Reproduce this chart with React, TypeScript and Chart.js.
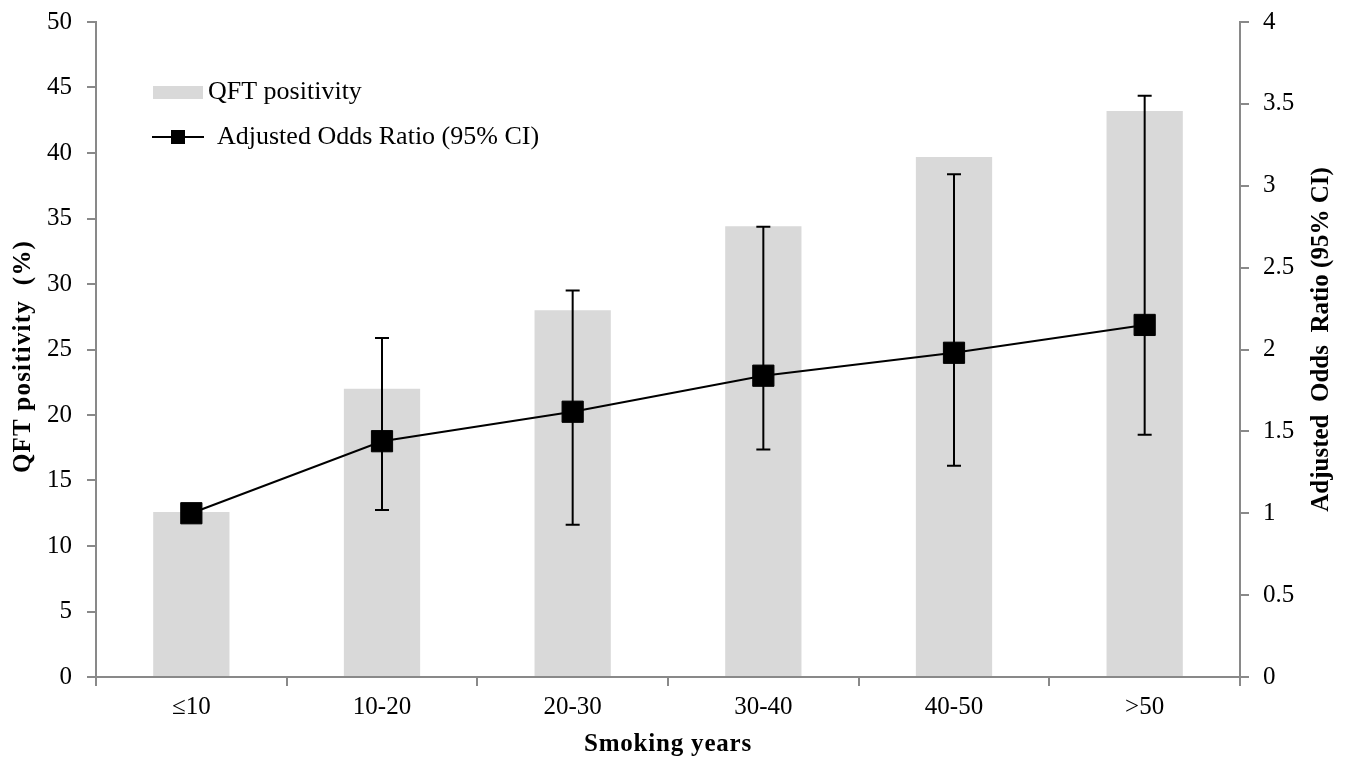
import React, { useEffect, useRef } from "react";
import { Chart, registerables } from "chart.js";

Chart.register(...registerables);

const categories = ["≤10", "10-20", "20-30", "30-40", "40-50", ">50"];
const qftPositivity = [12.6, 22.0, 28.0, 34.4, 39.7, 43.2];
const adjustedOR = [1.0, 1.44, 1.62, 1.84, 1.98, 2.15];
const ciLower: (number | null)[] = [null, 1.02, 0.93, 1.39, 1.29, 1.48];
const ciUpper: (number | null)[] = [null, 2.07, 2.36, 2.75, 3.07, 3.55];
const leftTitle = "QFT positivity  (%)";
const rightTitle = "Adjusted  Odds  Ratio (95% CI)";
const xTitle = "Smoking years";

const FONT = "'Liberation Serif', 'Times New Roman', serif";
const AXIS = "#898989";
const BAR = "#d9d9d9";

const errorBarPlugin = {
  id: "errorBars",
  afterDatasetsDraw(chart: any) {
    const { ctx, scales } = chart;
    const x = scales.x;
    const y1 = scales.y1;
    ctx.save();
    ctx.strokeStyle = "#000";
    ctx.lineWidth = 2;
    categories.forEach((_, i) => {
      const lo = ciLower[i];
      const hi = ciUpper[i];
      if (lo == null || hi == null) return;
      const px = x.getPixelForValue(i);
      const pLo = y1.getPixelForValue(lo);
      const pHi = y1.getPixelForValue(hi);
      ctx.beginPath();
      ctx.moveTo(px, pLo);
      ctx.lineTo(px, pHi);
      ctx.moveTo(px - 7, pLo);
      ctx.lineTo(px + 7, pLo);
      ctx.moveTo(px - 7, pHi);
      ctx.lineTo(px + 7, pHi);
      ctx.stroke();
    });
    ctx.restore();
  },
};

const decorPlugin = {
  id: "decor",
  afterDraw(chart: any) {
    const { ctx, chartArea } = chart;
    const midY = (chartArea.top + chartArea.bottom) / 2;
    const midX = (chartArea.left + chartArea.right) / 2;
    ctx.save();
    // legend
    ctx.fillStyle = BAR;
    ctx.fillRect(153, 86, 50, 13);
    ctx.fillStyle = "#000";
    ctx.font = `26px ${FONT}`;
    ctx.textBaseline = "middle";
    ctx.textAlign = "left";
    ctx.fillText("QFT positivity", 208, 92);
    ctx.strokeStyle = "#000";
    ctx.lineWidth = 2;
    ctx.beginPath();
    ctx.moveTo(152, 137);
    ctx.lineTo(204, 137);
    ctx.stroke();
    ctx.fillRect(171, 130, 14, 14);
    ctx.fillText("Adjusted Odds Ratio (95% CI)", 217, 137);

    ctx.font = `bold 25px ${FONT}`;
    ctx.textAlign = "center";
    // x title
    (ctx as any).letterSpacing = "0.8px";
    ctx.fillText(xTitle, midX, 745);
    // left title
    ctx.save();
    (ctx as any).letterSpacing = "1.2px";
    ctx.translate(24, midY + 7);
    ctx.rotate(-Math.PI / 2);
    ctx.fillText(leftTitle, 0, 0);
    ctx.restore();
    // right title
    ctx.save();
    (ctx as any).letterSpacing = "0px";
    ctx.translate(1322, midY - 10);
    ctx.rotate(-Math.PI / 2);
    ctx.fillText(rightTitle, 0, 0);
    ctx.restore();
    ctx.restore();
  },
};

function fixV(width: number) {
  return (scale: any) => {
    scale.width = width;
    scale.paddingTop = 0;
    scale.paddingBottom = 0;
  };
}

export default function App() {
  const ref = useRef<HTMLCanvasElement | null>(null);

  useEffect(() => {
    if (!ref.current) return;
    const chart = new Chart(ref.current, {
      type: "bar",
      data: {
        labels: categories,
        datasets: [
          {
            type: "line",
            label: "Adjusted Odds Ratio (95% CI)",
            data: adjustedOR,
            yAxisID: "y1",
            borderColor: "#000",
            backgroundColor: "#000",
            borderWidth: 2,
            pointStyle: "rect",
            pointRadius: 15,
            pointBorderWidth: 1,
            pointBackgroundColor: "#000",
            pointBorderColor: "#000",
            tension: 0,
            order: 1,
          } as any,
          {
            type: "bar",
            label: "QFT positivity",
            data: qftPositivity,
            yAxisID: "y",
            backgroundColor: BAR,
            barPercentage: 0.4,
            categoryPercentage: 1,
            order: 2,
          },
        ],
      },
      options: {
        animation: false,
        responsive: false,
        maintainAspectRatio: false,
        layout: { padding: { top: 22, left: 0, right: 0, bottom: 0 } },
        plugins: {
          legend: { display: false },
          tooltip: { enabled: false },
        },
        scales: {
          x: {
            offset: true,
            grid: {
              offset: true,
              drawOnChartArea: false,
              drawTicks: true,
              tickLength: 9,
              color: AXIS,
              lineWidth: 2,
            },
            border: { color: AXIS, width: 2 },
            ticks: { color: "#000", font: { family: FONT, size: 25 }, padding: 6 },
            afterFit(scale: any) {
              scale.height = 82;
              scale.paddingLeft = 0;
              scale.paddingRight = 0;
            },
          },
          y: {
            position: "left",
            min: 0,
            max: 50,
            ticks: {
              stepSize: 5,
              color: "#000",
              font: { family: FONT, size: 25 },
              padding: 15,
            },
            grid: {
              drawOnChartArea: false,
              drawTicks: true,
              tickLength: 9,
              color: AXIS,
              lineWidth: 2,
            },
            border: { color: AXIS, width: 2 },
            afterFit: fixV(96),
          },
          y1: {
            position: "right",
            min: 0,
            max: 4,
            ticks: {
              stepSize: 0.5,
              color: "#000",
              font: { family: FONT, size: 25 },
              padding: 14,
              callback: (v: any) => String(Number(v)),
            },
            grid: {
              drawOnChartArea: false,
              drawTicks: true,
              tickLength: 9,
              color: AXIS,
              lineWidth: 2,
            },
            border: { color: AXIS, width: 2 },
            afterFit: fixV(109),
          },
        },
      } as any,
      plugins: [errorBarPlugin, decorPlugin],
    });
    return () => chart.destroy();
  }, []);

  return (
    <div style={{ position: "fixed", left: 0, top: 0, width: 1349, height: 759, background: "#fff" }}>
      <canvas ref={ref} width={1349} height={759} style={{ width: 1349, height: 759 }} />
    </div>
  );
}
